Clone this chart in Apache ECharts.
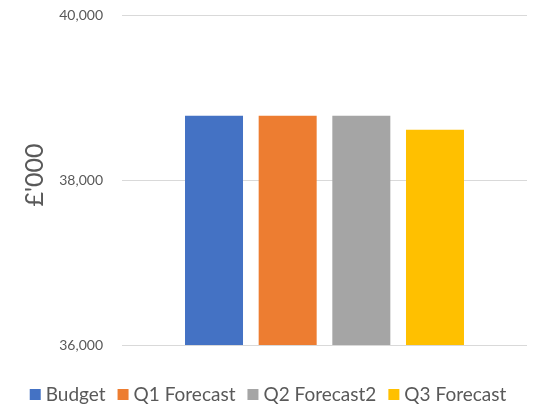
<!DOCTYPE html>
<html>
<head>
<meta charset="utf-8">
<script src="https://cdn.jsdelivr.net/npm/echarts@6/dist/echarts.min.js"></script>
<style>
  html, body { margin: 0; padding: 0; background: #fff; }
  #chart { width: 536px; height: 407px; }
</style>
</head>
<body>
<div id="chart"></div>
<script>
const seriesNames = ['Budget', 'Q1 Forecast', 'Q2 Forecast2', 'Q3 Forecast']
const seriesValues = [38780, 38780, 38780, 38610]
const colors = ['#4472C4', '#ED7D31', '#A5A5A5', '#FFC000']
const categories = ['']

const chart = echarts.init(document.getElementById('chart'))
const font = 'Lato, "Open Sans", sans-serif'

chart.setOption({
  animation: false,
  grid: { left: 122, right: 9, top: 15, bottom: 62 },
  legend: {
    data: seriesNames,
    left: 'center',
    top: 380,
    itemWidth: 11,
    itemHeight: 11,
    itemGap: 12,
    icon: 'rect',
    textStyle: { fontSize: 19, color: '#595959', fontFamily: font },
  },
  xAxis: {
    type: 'category',
    data: categories,
    axisLine: { show: false },
    axisTick: { show: false },
    axisLabel: { show: false },
  },
  yAxis: {
    type: 'value',
    min: 36000,
    max: 40000,
    interval: 2000,
    name: '£\'000',
    nameLocation: 'middle',
    nameGap: 75,
    nameTextStyle: { fontSize: 25, color: '#595959', fontFamily: font, padding: [0, 0, 0, 10] },
    axisLabel: {
      margin: 19,
      fontSize: 14,
      color: '#595959',
      fontFamily: font,
      formatter: (v) => v.toLocaleString('en-US'),
    },
    splitLine: { lineStyle: { color: '#D9D9D9', width: 1 } },
  },
  series: seriesNames.map((name, i) => ({
    name,
    type: 'bar',
    data: [seriesValues[i]],
    barWidth: 58,
    barGap: '27%',
    itemStyle: { color: colors[i] },
  })),
})
</script>
</body>
</html>
